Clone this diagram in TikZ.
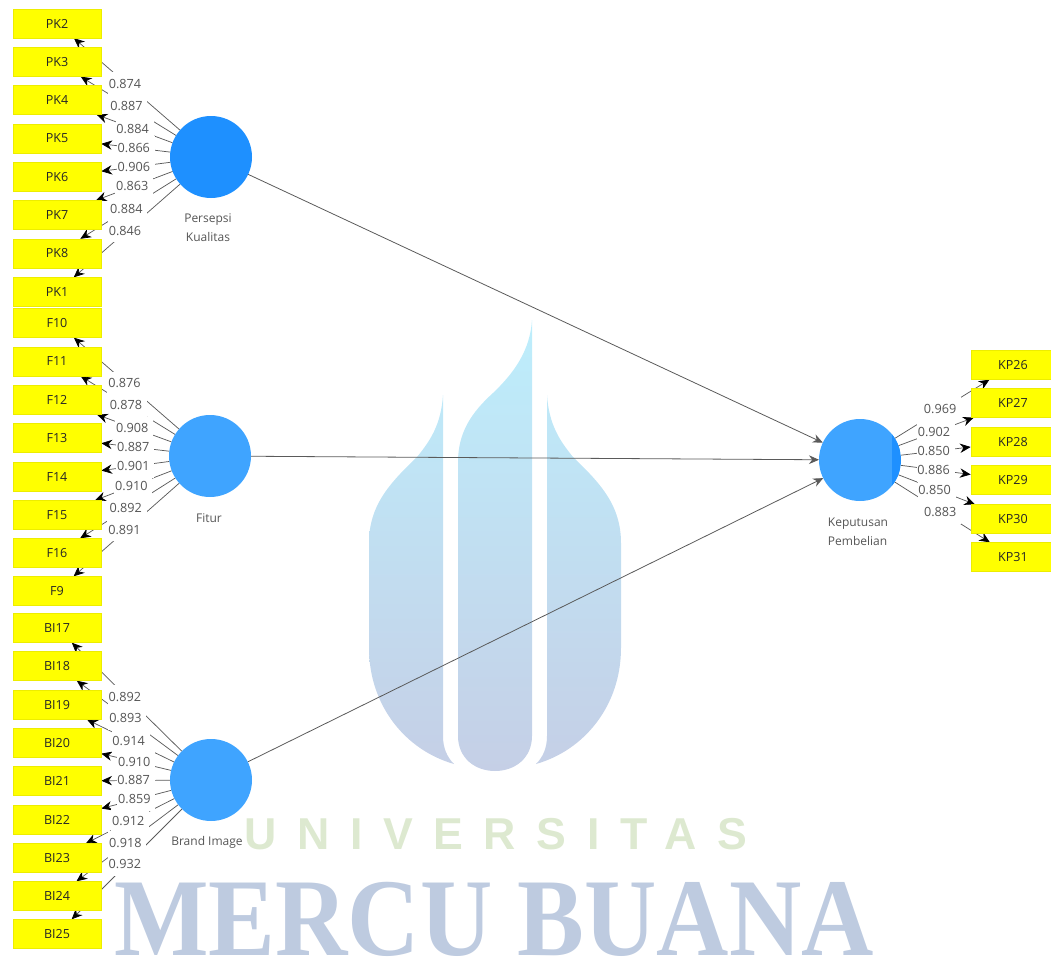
\documentclass[tikz,border=0pt]{standalone}
\usepackage{fontspec}
\setmainfont{Open Sans}
\newfontfamily\wmserif{Liberation Serif}
\newfontfamily\wmsans[LetterSpace=46]{Liberation Sans}
\usetikzlibrary{arrows.meta,calc}
\pgfdeclarelayer{bg}
\pgfsetlayers{bg,main}
\definecolor{boxyellow}{HTML}{FFFF00}
\definecolor{boxedge}{HTML}{EDED00}
\definecolor{darkblue}{HTML}{1E90FF}
\definecolor{lightblue}{HTML}{3FA4FF}
\definecolor{linegray}{HTML}{5A5A5A}
\definecolor{labelgray}{HTML}{555555}
\definecolor{wmtop}{HTML}{BDEEFC}
\definecolor{wmbottom}{HTML}{C5CFE6}
\definecolor{wmgreen}{HTML}{DDE9D0}
\definecolor{wmblue}{HTML}{BECBE0}
\tikzset{
  x=0.75pt,y=-0.75pt,
  indicator/.style={rectangle,fill=boxyellow,draw=boxedge,line width=0.5pt,minimum width=66pt,minimum height=21.5pt,inner sep=0pt,font=\fontsize{9.4}{10}\selectfont,text=black!85},
  indicatorR/.style={indicator,minimum width=63pt},
  latent/.style={circle,minimum size=61.5pt,inner sep=0pt,outer sep=0pt,fill=lightblue},
  caption/.style={font=\fontsize{9}{14.4}\selectfont,text=labelgray,align=center,inner sep=0pt},
  weight/.style={fill=white,font=\fontsize{9.5}{10}\selectfont,text=labelgray,inner sep=0pt,minimum width=28.5pt,minimum height=17.5pt},
  loading/.style={draw=linegray,line width=0.55pt,-{Stealth[length=8pt,width=7pt,color=black]}},
  structural/.style={draw=linegray,line width=0.6pt,-{Stealth[length=7.5pt,width=6.5pt,color=linegray]}},
}
\begin{document}
\begin{tikzpicture}
\useasboundingbox (0,0) rectangle (1051,957);
% watermark
\begin{pgfonlayer}{bg}
\shade[top color=wmtop,bottom color=wmbottom,shading angle=0]
  (532,320) .. controls (530,350) and (515,372) .. (493,393)
  .. controls (472,412) and (458,432) .. (458,462)
  -- (458,736) .. controls (458,758) and (475,771) .. (495,771)
  .. controls (515,771) and (532,758) .. (532,736) -- cycle
  (443,395) .. controls (441,425) and (430,441) .. (417,457)
  .. controls (390,483) and (369,505) .. (369,543)
  -- (369,648) .. controls (369,705) and (405,750) .. (454,764)
  .. controls (447,757) and (443,748) .. (443,736) -- cycle
  (547,395) .. controls (549,425) and (560,441) .. (573,457)
  .. controls (600,483) and (621,505) .. (621,543)
  -- (621,648) .. controls (621,705) and (585,750) .. (536,764)
  .. controls (543,757) and (547,748) .. (547,736) -- cycle;
\node[text=wmgreen,inner sep=0pt,font=\wmsans\bfseries\fontsize{33.5}{36}\selectfont] (wmu) at (496,834) {UNIVERSITAS};
\node[text=wmblue,inner sep=0pt,anchor=base,xscale=0.905,font=\wmserif\bfseries\fontsize{83}{90}\selectfont] (wmm) at (494,955) {MERCU BUANA};
\end{pgfonlayer}
% latent variables
\node[latent,fill=darkblue] (PK) at (211,157) {};
\node[latent] (FT) at (210,456) {};
\node[latent] (BI) at (211,780) {};
\node[latent,path picture={\fill[darkblue] ([xshift=-6.75pt]path picture bounding box.north east) rectangle (path picture bounding box.south east);}] (KP) at (860,460) {};
\node[caption] (capPK) at (208,227.5) {Persepsi\\Kualitas};
\node[caption] (capFT) at (209,518) {Fitur};
\node[caption] (capBI) at (207,842) {Brand Image};
\node[caption,align=left] (capKP) at (858,531.5) {Keputusan\\Pembelian};
% indicators
\foreach \nm/\yy in {PK2/23.5,PK3/62,PK4/100,PK5/138.5,PK6/177,PK7/215,PK8/253.5,PK1/292,
  F10/323,F11/361.5,F12/400,F13/438,F14/476.5,F15/515,F16/553,F9/591,
  BI17/628,BI18/666,BI19/705,BI20/743,BI21/781,BI22/820,BI23/858,BI24/896,BI25/934}
  \node[indicator] (\nm) at (57,\yy) {\nm};
\foreach \nm/\yy in {KP26/365,KP27/403,KP28/442,KP29/480,KP30/519,KP31/557}
  \node[indicatorR] (\nm) at (1013,\yy) {\nm};
% connectors
\begin{pgfonlayer}{bg}
\draw[structural] (PK) -- (KP);
\draw[structural] (FT) -- (KP);
\draw[structural] (BI) -- (KP);
\foreach \src/\tgt in {PK/PK2,PK/PK3,PK/PK4,PK/PK5,PK/PK6,PK/PK7,PK/PK8,PK/PK1,
  FT/F10,FT/F11,FT/F12,FT/F13,FT/F14,FT/F15,FT/F16,FT/F9,
  BI/BI17,BI/BI18,BI/BI19,BI/BI20,BI/BI21,BI/BI22,BI/BI23,BI/BI24,BI/BI25,
  KP/KP26,KP/KP27,KP/KP28,KP/KP29,KP/KP30,KP/KP31}
  \draw[loading] (\src) -- (\tgt);
\end{pgfonlayer}
% weights
\foreach \src/\tgt/\val in {PK/PK2/0.874,PK/PK3/0.887,PK/PK4/0.884,PK/PK5/0.866,PK/PK6/0.906,PK/PK7/0.863,PK/PK8/0.884,PK/PK1/0.846,
  FT/F10/0.876,FT/F11/0.878,FT/F12/0.908,FT/F13/0.887,FT/F14/0.901,FT/F15/0.910,FT/F16/0.892,FT/F9/0.891,
  BI/BI17/0.892,BI/BI18/0.893,BI/BI19/0.914,BI/BI20/0.910,BI/BI21/0.887,BI/BI22/0.859,BI/BI23/0.912,BI/BI24/0.918,BI/BI25/0.932,
  KP/KP26/0.969,KP/KP27/0.902,KP/KP28/0.850,KP/KP29/0.886,KP/KP30/0.850,KP/KP31/0.883}
  \path (\src) -- (\tgt) node[weight,midway] (w\tgt) {\val\hspace*{3pt}};
\end{tikzpicture}
\end{document}
